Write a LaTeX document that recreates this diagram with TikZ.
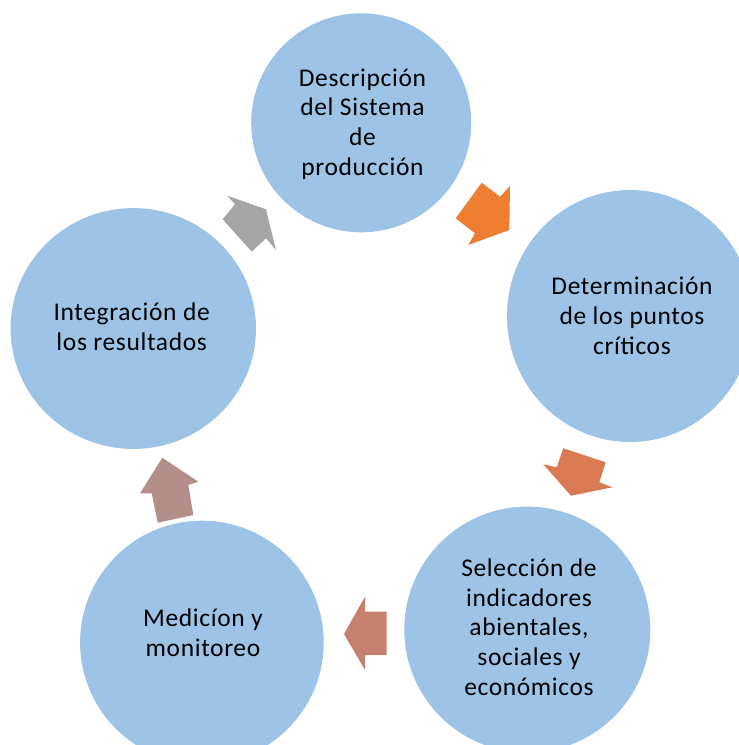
\documentclass[tikz,border=0pt]{standalone}
\usepackage{fontspec}
\setmainfont[LetterSpace=2.5]{Carlito}
\usetikzlibrary{shapes.geometric}
\definecolor{cfill}{HTML}{9DC3E6}
\definecolor{arA}{HTML}{ED7D31}
\definecolor{arB}{HTML}{D97A52}
\definecolor{arC}{HTML}{C5806E}
\definecolor{arD}{HTML}{B48F89}
\definecolor{arE}{HTML}{A5A5A5}
\tikzset{
  bubble/.style={ellipse, fill=cfill, draw=none, inner sep=0pt},
  lbl/.style={align=center, inner sep=0pt, text=black, font=\fontsize{25.5}{29.7}\selectfont},
}
\begin{document}
\begin{tikzpicture}[x=1pt, y=-1pt]
\useasboundingbox (0,0) rectangle (739,745);
\clip (0,0) rectangle (739,745);
% circles
\node[bubble, minimum width=220pt, minimum height=219pt] (c1) at (361.2,122.8) {};
\node[bubble, minimum width=246pt, minimum height=252pt] (c2) at (630,316) {};
\node[bubble, minimum width=246pt, minimum height=246pt] (c3) at (527.3,629.6) {};
\node[bubble, minimum width=243.6pt, minimum height=243.6pt] (c4) at (201.9,642.5) {};
\node[bubble, minimum width=245.4pt, minimum height=240.8pt] (c5) at (133.3,328.5) {};
% labels
\node[lbl] (t1) at (362.5,124) {Descripción\\del Sistema\\de\\producción};
\node[lbl] (t2) at (632,316) {Determinación\\de los puntos\\críticos};
\node[lbl] (t3) at (529,627) {Selección de\\indicadores\\abientales,\\sociales y\\económicos};
\node[lbl] (t4) at (203,633) {Medicíon y\\monitoreo};
\node[lbl] (t5) at (131.7,327) {Integración de\\los resultados};
% arrows
\fill[arA] (481.7,182.7) -- (500,196.7) -- (510,186) -- (509.3,230) -- (468.3,245) -- (475,233.3) -- (455.7,218.3) -- cycle;
\fill[arB] (563.3,448.3) -- (605.7,462.3) -- (599.3,482.3) -- (612.3,487.3) -- (571,495.7) -- (543.3,464.3) -- (556.7,467.3) -- cycle;
\fill[arC] (386.7,611.7) -- (386.7,655) -- (365,655) -- (365,670) -- (344,634) -- (365,596.7) -- (365,611.7) -- cycle;
\fill[arD] (162.3,457.7) -- (198.3,481.7) -- (188.3,485) -- (193.3,515) -- (157.7,522.7) -- (151.7,493.3) -- (140,493.3) -- cycle;
\fill[arE] (227.3,195.7) -- (235,204.3) -- (222.7,219.3) -- (251.7,251.7) -- (266,238.3) -- (276,250) -- (266,209.3) -- cycle;
\end{tikzpicture}
\end{document}
